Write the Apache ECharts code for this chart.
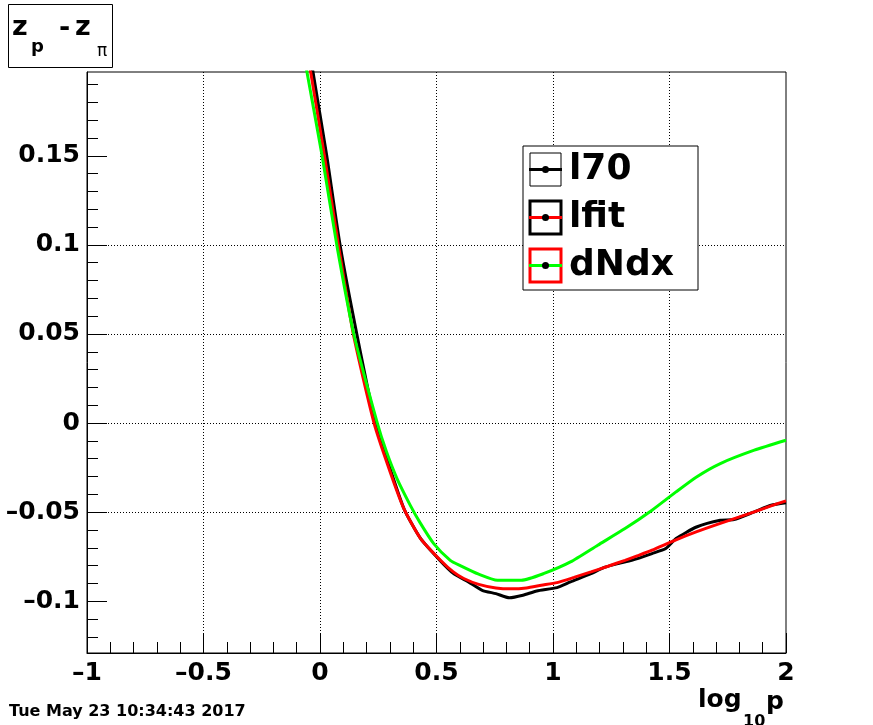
<!DOCTYPE html>
<html><head><meta charset="utf-8">
<script src="https://cdn.jsdelivr.net/npm/echarts@6/dist/echarts.min.js"></script>
<style>html,body{margin:0;padding:0;background:#fff}#c{width:873px;height:725px}</style>
</head><body><div id="c"></div>
<script>
// ---- data ----
const seriesNames = ['l70', 'lfit', 'dNdx'];
const l70X = [-0.046, -0.030, 0.029, 0.086, 0.158, 0.238, 0.303, 0.362, 0.433, 0.516, 0.572, 0.637, 0.696, 0.755, 0.813, 0.871, 0.930, 1.017, 1.075, 1.163, 1.220, 1.280, 1.338, 1.425, 1.484, 1.528, 1.616, 1.718, 1.776, 1.864, 1.936, 2.000];
const l70Y = [0.210, 0.197, 0.150, 0.100, 0.050, 0.000, -0.0264, -0.0485, -0.0650, -0.0772, -0.0843, -0.0891, -0.0938, -0.0957, -0.0980, -0.0966, -0.0942, -0.0923, -0.0891, -0.0845, -0.0810, -0.0788, -0.0770, -0.0732, -0.0704, -0.0648, -0.0583, -0.0545, -0.0541, -0.0498, -0.0461, -0.0447];
const lfitX = [-0.056, -0.040, 0.019, 0.079, 0.143, 0.232, 0.300, 0.360, 0.430, 0.516, 0.572, 0.617, 0.681, 0.755, 0.820, 0.886, 0.950, 1.017, 1.090, 1.163, 1.236, 1.309, 1.367, 1.425, 1.528, 1.620, 1.718, 1.864, 1.930, 2.000];
const lfitY = [0.210, 0.197, 0.150, 0.100, 0.050, 0.000, -0.0270, -0.0480, -0.0645, -0.0768, -0.0835, -0.0872, -0.0905, -0.0925, -0.0930, -0.0925, -0.0910, -0.0895, -0.0866, -0.0835, -0.0803, -0.0770, -0.0742, -0.0713, -0.0655, -0.0608, -0.0563, -0.0498, -0.0467, -0.0436];
const dNdxX = [-0.074, -0.056, 0.009, 0.072, 0.145, 0.246, 0.285, 0.330, 0.387, 0.430, 0.488, 0.559, 0.602, 0.681, 0.762, 0.864, 0.959, 1.075, 1.192, 1.309, 1.425, 1.528, 1.616, 1.718, 1.864, 2.000];
const dNdxY = [0.210, 0.197, 0.150, 0.100, 0.050, 0.000, -0.0160, -0.0310, -0.0460, -0.0560, -0.0676, -0.0770, -0.0800, -0.0848, -0.0882, -0.0882, -0.0845, -0.0779, -0.0685, -0.0592, -0.0489, -0.0386, -0.0302, -0.0227, -0.0152, -0.0096];

const xMin = -1, xMax = 2, xInterval = 0.5;
const yMin = -0.129, yMax = 0.197;
const yMajorTicks = [-0.1, -0.05, 0, 0.05, 0.1, 0.15];
const yMinorTicks = [-0.12, -0.11, -0.10, -0.09, -0.08, -0.07, -0.06, -0.05, -0.04, -0.03, -0.02, -0.01, 0, 0.01, 0.02, 0.03, 0.04, 0.05, 0.06, 0.07, 0.08, 0.09, 0.10, 0.11, 0.12, 0.13, 0.14, 0.15, 0.16, 0.17, 0.18, 0.19];

const titleText = ['z', 'p', '-', 'z', 'π'];
const xTitle = ['log', '10', 'p'];
const dateText = 'Tue May 23 10:34:43 2017';

// ---- style ----
const FONT = 'DejaVu Sans';
const lineColors = ['#000000', '#ff0000', '#00ff00'];
const boxColors = ['#000000', '#000000', '#ff0000'];
const boxWidths = [1, 3, 3];

function zip(xs, ys) { return xs.map((x, i) => [x, ys[i]]); }
function fmt(v) {
  const s = String(Math.abs(+(+v).toFixed(4)));
  return v < 0 ? '\u2013' + s : s;
}

const gridL = 87, gridT = 72, gridR = 87, gridB = 72;
const dotted = { color: '#000', width: 1, type: [1, 2] };

const chart = echarts.init(document.getElementById('c'), null, { renderer: 'canvas' });

const legendGraphics = [];
const lgX = 523, lgY = 146, lgW = 175, lgH = 144;
legendGraphics.push({ type: 'rect', shape: { x: lgX, y: lgY, width: lgW, height: lgH }, style: { fill: '#fff', stroke: '#000', lineWidth: 1 }, z: 100 });
const rowCenters = [169.5, 217.5, 265.5];
seriesNames.forEach((name, i) => {
  const cy = rowCenters[i];
  legendGraphics.push({ type: 'rect', shape: { x: 530, y: cy - 16.5, width: 31, height: 33 }, style: { fill: '#fff', stroke: boxColors[i], lineWidth: boxWidths[i] }, z: 101 });
  legendGraphics.push({ type: 'line', shape: { x1: 529, y1: cy, x2: 562, y2: cy }, style: { stroke: lineColors[i], lineWidth: 3 }, z: 102 });
  legendGraphics.push({ type: 'circle', shape: { cx: 545.5, cy: cy, r: 3.5 }, style: { fill: '#000' }, z: 103 });
  legendGraphics.push({ type: 'text', x: 569, y: cy, style: { text: name, font: 'bold 36px ' + FONT, fill: '#000', align: 'left', verticalAlign: 'middle' }, z: 103 });
});

const titleGraphics = [
  { type: 'rect', shape: { x: 8.5, y: 4.5, width: 104, height: 63 }, style: { fill: '#fff', stroke: '#000', lineWidth: 1 }, z: 100 },
  { type: 'text', x: 12, y: 28, style: { text: titleText[0], font: 'bold 27px ' + FONT, fill: '#000', verticalAlign: 'middle' }, z: 101 },
  { type: 'text', x: 31, y: 47, style: { text: titleText[1], font: 'bold 18px ' + FONT, fill: '#000', verticalAlign: 'middle' }, z: 101 },
  { type: 'text', x: 59, y: 29, style: { text: titleText[2], font: 'bold 27px ' + FONT, fill: '#000', verticalAlign: 'middle' }, z: 101 },
  { type: 'text', x: 75, y: 28, style: { text: titleText[3], font: 'bold 27px ' + FONT, fill: '#000', verticalAlign: 'middle' }, z: 101 },
  { type: 'text', x: 97, y: 52, style: { text: titleText[4], font: '17px ' + FONT, fill: '#000', verticalAlign: 'middle' }, z: 101 }
];

const axisTitleGraphics = [
  { type: 'text', x: 698, y: 700, style: { text: xTitle[0], font: 'bold 25px ' + FONT, fill: '#000', verticalAlign: 'middle' }, z: 101 },
  { type: 'text', x: 743, y: 722, style: { text: xTitle[1], font: 'bold 16px ' + FONT, fill: '#000', verticalAlign: 'middle' }, z: 101 },
  { type: 'text', x: 766, y: 702, style: { text: xTitle[2], font: 'bold 25px ' + FONT, fill: '#000', verticalAlign: 'middle' }, z: 101 },
  { type: 'text', x: 9, y: 712, style: { text: dateText, font: 'bold 16px ' + FONT, fill: '#000', verticalAlign: 'middle' }, z: 101 }
];

const option = {
  backgroundColor: '#fff',
  animation: false,
  grid: { left: gridL, top: gridT, right: gridR, bottom: gridB, show: true, borderColor: '#000', borderWidth: 1, backgroundColor: 'transparent', containLabel: false },
  xAxis: {
    type: 'value', min: xMin, max: xMax, interval: xInterval,
    axisLine: { show: true, onZero: false, lineStyle: { color: '#000', width: 1 } },
    axisTick: { show: true, inside: true, length: 20, lineStyle: { color: '#000', width: 1 } },
    minorTick: { show: true, splitNumber: 5, length: 11, lineStyle: { color: '#000', width: 1 } },
    splitLine: { show: true, showMinLine: false, showMaxLine: false, lineStyle: dotted },
    axisLabel: { show: true, margin: 8, color: '#000', fontFamily: FONT, fontWeight: 'bold', fontSize: 25, formatter: fmt }
  },
  yAxis: [
    {
      type: 'value', min: yMin, max: yMax, position: 'left',
      axisLine: { show: true, onZero: false, lineStyle: { color: '#000', width: 1 } },
      axisTick: { show: true, inside: true, length: 20, customValues: yMajorTicks, lineStyle: { color: '#000', width: 1 } },
      axisLabel: { show: true, margin: 7, customValues: yMajorTicks, color: '#000', fontFamily: FONT, fontWeight: 'bold', fontSize: 25, formatter: fmt },
      splitLine: { show: true, showMinLine: false, showMaxLine: false, lineStyle: dotted }
    },
    {
      type: 'value', min: yMin, max: yMax, position: 'left', offset: 0,
      axisLine: { show: false, onZero: false },
      axisTick: { show: true, inside: true, length: 11, customValues: yMinorTicks, lineStyle: { color: '#000', width: 1 } },
      axisLabel: { show: false },
      splitLine: { show: false }
    }
  ],
  series: [
    { name: seriesNames[0], type: 'line', yAxisIndex: 0, data: zip(l70X, l70Y), showSymbol: false, smooth: 0.2, clip: true, lineStyle: { color: lineColors[0], width: 3 }, z: 2 },
    { name: seriesNames[1], type: 'line', yAxisIndex: 0, data: zip(lfitX, lfitY), showSymbol: false, smooth: 0.2, clip: true, lineStyle: { color: lineColors[1], width: 3 }, z: 3 },
    { name: seriesNames[2], type: 'line', yAxisIndex: 0, data: zip(dNdxX, dNdxY), showSymbol: false, smooth: 0.2, clip: true, lineStyle: { color: lineColors[2], width: 3 }, z: 4 }
  ],
  graphic: [].concat(titleGraphics, legendGraphics, axisTitleGraphics)
};
chart.setOption(option);
</script>
</body></html>
